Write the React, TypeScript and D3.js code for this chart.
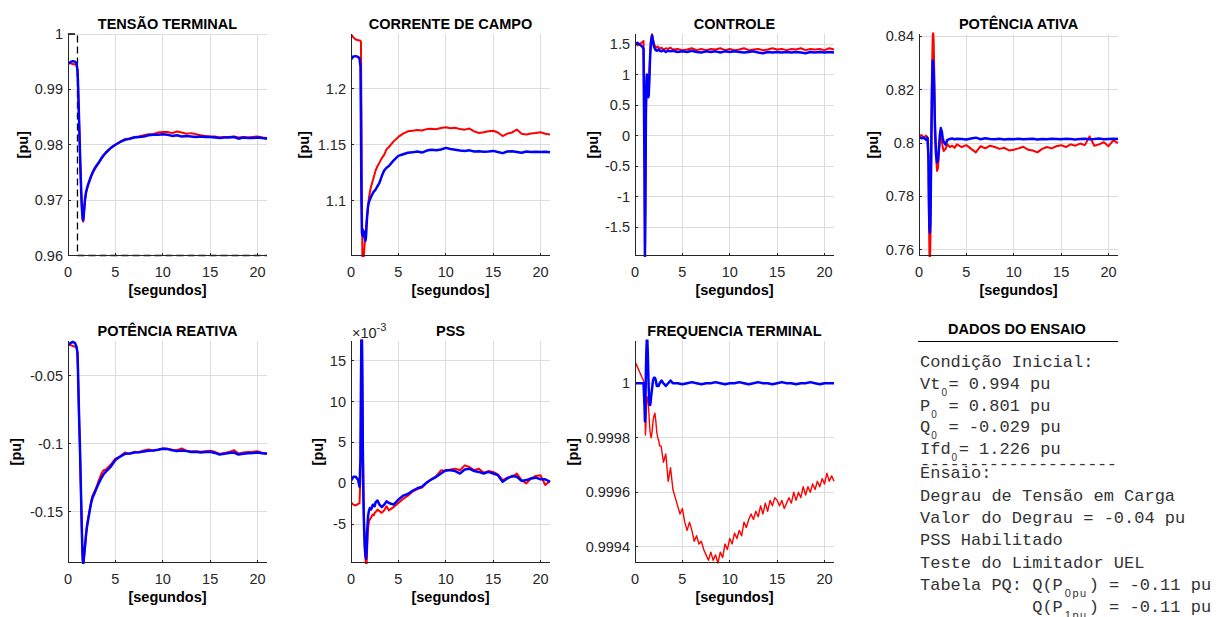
import React from 'react';
import * as d3 from 'd3';

// time base in seconds, shared by most traces (denser around the step at t = 1 s)
const tempo = [
  0, 0.25, 0.5, 0.75, 0.9,
  1.0, 1.05, 1.1, 1.15, 1.2, 1.25, 1.3, 1.35, 1.4, 1.45, 1.5, 1.55, 1.6, 1.65, 1.7,
  1.8, 1.9, 2.0, 2.1, 2.2, 2.3, 2.4, 2.5, 2.6,
  2.8, 3.0, 3.25, 3.5, 3.75, 4.0,
  4.5, 5, 5.5, 6, 6.5, 7, 7.5, 8, 8.5, 9, 9.5, 10, 10.5, 11, 11.5, 12, 12.5, 13, 13.5, 14,
  14.5, 15, 15.5, 16, 16.5, 17, 17.5, 18, 18.5, 19, 19.5, 20, 20.5, 21,
];
// finer time base for the noisy red frequency trace
const tempoFreq = [
  0, 0.25, 0.5, 0.75, 0.9,
  1.0, 1.05, 1.1, 1.15, 1.2, 1.25, 1.3, 1.35, 1.4, 1.45, 1.5, 1.55, 1.6, 1.65, 1.7,
  1.8, 1.9, 2.0, 2.1, 2.2, 2.3, 2.4, 2.5, 2.6,
  2.75, 3.0, 3.25, 3.5, 3.75, 4.0, 4.25, 4.5, 4.75, 5.0,
  5.25, 5.5, 5.75, 6.0, 6.25, 6.5, 6.75, 7.0, 7.25, 7.5,
  7.75, 8.0, 8.25, 8.5, 8.75, 9.0, 9.25, 9.5, 9.75, 10.0,
  10.25, 10.5, 10.75, 11.0, 11.25, 11.5, 11.75, 12.0, 12.25, 12.5,
  12.75, 13.0, 13.25, 13.5, 13.75, 14.0, 14.25, 14.5, 14.75, 15.0,
  15.25, 15.5, 15.75, 16.0, 16.25, 16.5, 16.75, 17.0, 17.25, 17.5,
  17.75, 18.0, 18.25, 18.5, 18.75, 19.0, 19.25, 19.5, 19.75, 20.0,
  20.25, 20.5, 20.75, 21.0,
];

// TENSÃO TERMINAL
const vtRed = [
  0.9948, 0.9947, 0.9946, 0.9945, 0.9944,
  0.9934, 0.9914, 0.9884, 0.9854, 0.9824, 0.9794, 0.9764, 0.9737, 0.9712, 0.969, 0.9674, 0.9664, 0.9661, 0.9667, 0.968,
  0.9701, 0.9713, 0.972, 0.9726, 0.9731, 0.9735, 0.974, 0.9745, 0.9749,
  0.9755, 0.9761, 0.9767, 0.9774, 0.978, 0.9785,
  0.9794, 0.98, 0.9805, 0.981, 0.9811, 0.9814, 0.9815, 0.9817, 0.9819, 0.9819, 0.9822, 0.9823, 0.9823, 0.9821, 0.9824,
  0.9822, 0.982, 0.9821, 0.9819, 0.9817, 0.9816, 0.9815, 0.9815, 0.9813, 0.9814, 0.9814, 0.9815, 0.9813, 0.9814, 0.9813,
  0.9814, 0.9815, 0.9813, 0.9812,
];
const vtBlue = [
  0.9946, 0.9949, 0.9951, 0.995, 0.9947,
  0.9935, 0.9915, 0.9885, 0.9855, 0.9825, 0.9795, 0.9765, 0.9738, 0.9713, 0.9692, 0.9676, 0.9666, 0.9664, 0.967, 0.9682,
  0.9702, 0.9714, 0.9721, 0.9727, 0.9732, 0.9737, 0.9742, 0.9746, 0.975,
  0.9757, 0.9762, 0.9768, 0.9775, 0.9781, 0.9786,
  0.9794, 0.98, 0.9805, 0.9809, 0.9811, 0.9813, 0.9814, 0.9815, 0.9817, 0.9818, 0.9818, 0.9819, 0.9818, 0.9816, 0.9817,
  0.9815, 0.9816, 0.9815, 0.9814, 0.9815, 0.9814, 0.9814, 0.9813, 0.9812, 0.9813, 0.9813, 0.9814, 0.9811, 0.9813, 0.9812,
  0.9812, 0.9813, 0.9812, 0.9811,
];
// voltage reference step (dashed)
const refTempo = [0, 1, 1, 21];
const refTensao = [1, 1, 0.96, 0.96];

// CORRENTE DE CAMPO
const ifdRed = [
  1.2486, 1.246, 1.244, 1.2435, 1.2432,
  1.243, 1.242, 1.18, 1.1, 1.05, 1.042, 1.044, 1.05, 1.056, 1.062, 1.068, 1.073, 1.078, 1.082, 1.086,
  1.095, 1.103, 1.108, 1.112, 1.115, 1.118, 1.121, 1.124, 1.127,
  1.131, 1.134, 1.138, 1.141, 1.146, 1.148,
  1.153, 1.157, 1.16, 1.162, 1.1625, 1.1632, 1.1628, 1.164, 1.1642, 1.1638, 1.165, 1.1657, 1.1648, 1.1652, 1.164,
  1.1635, 1.1645, 1.162, 1.1605, 1.1612, 1.162, 1.1625, 1.161, 1.1578, 1.16, 1.161, 1.1636, 1.1598, 1.1592, 1.16,
  1.1605, 1.1612, 1.1598, 1.1592,
];
const ifdBlue = [
  1.2262, 1.229, 1.2292, 1.2285, 1.227,
  1.22, 1.17, 1.1, 1.072, 1.069, 1.074, 1.07, 1.068, 1.072, 1.066, 1.064, 1.065, 1.07, 1.078, 1.086,
  1.095, 1.099, 1.101, 1.103, 1.105, 1.1065, 1.108, 1.109, 1.11,
  1.113, 1.116, 1.122, 1.127, 1.1295, 1.131,
  1.136, 1.14, 1.1415, 1.1428, 1.1432, 1.144, 1.143, 1.1448, 1.1455, 1.145, 1.1458, 1.1472, 1.1462, 1.1455, 1.1448,
  1.1445, 1.145, 1.144, 1.1442, 1.1438, 1.144, 1.1445, 1.1435, 1.1425, 1.144, 1.1442, 1.1436, 1.1428, 1.144, 1.1435,
  1.1438, 1.1436, 1.1438, 1.1432,
];

// CONTROLE
const ctrlRed = [
  1.52, 1.48, 1.5, 1.53, 1.55,
  -0.3, -1.98, -1.1, 0.2, 0.85, 0.98, 0.95, 0.75, 0.66, 0.7, 0.9, 1.12, 1.33, 1.48, 1.58,
  1.66, 1.58, 1.5, 1.47, 1.45, 1.44, 1.46, 1.44, 1.42,
  1.44, 1.41, 1.43, 1.42, 1.44, 1.41,
  1.42, 1.4, 1.41, 1.43, 1.4, 1.42, 1.4, 1.42, 1.41, 1.43, 1.4, 1.42, 1.4, 1.41, 1.43,
  1.4, 1.41, 1.42, 1.4, 1.41, 1.43, 1.41, 1.42, 1.4, 1.42, 1.41, 1.43, 1.4, 1.42, 1.41,
  1.42, 1.4, 1.43, 1.41,
];
const ctrlBlue = [
  1.5, 1.52, 1.49, 1.46, 1.42,
  -0.5, -1.98, -1.0, 0.3, 0.85, 1.0, 0.9, 0.7, 0.63, 0.66, 0.85, 1.1, 1.3, 1.45, 1.55,
  1.64, 1.55, 1.46, 1.42, 1.4, 1.39, 1.4, 1.41, 1.39,
  1.38, 1.4, 1.37, 1.39, 1.38, 1.39,
  1.37, 1.38, 1.37, 1.39, 1.37, 1.36, 1.38, 1.37, 1.38, 1.36, 1.38, 1.37, 1.38, 1.37, 1.36,
  1.37, 1.38, 1.36, 1.35, 1.37, 1.36, 1.37, 1.36, 1.37, 1.36, 1.37, 1.36, 1.35, 1.37, 1.36,
  1.37, 1.36, 1.37, 1.36,
];

// POTÊNCIA ATIVA
const pRed = [
  0.8025, 0.803, 0.802, 0.8028, 0.802,
  0.792, 0.772, 0.758, 0.756, 0.762, 0.779, 0.799, 0.818, 0.832, 0.84, 0.842, 0.838, 0.829, 0.817, 0.806,
  0.795, 0.7895, 0.7905, 0.796, 0.801, 0.803, 0.801, 0.7985, 0.797,
  0.7978, 0.7995, 0.7985, 0.799, 0.7982, 0.7995,
  0.7985, 0.7992, 0.7978, 0.7965, 0.7988, 0.798, 0.799, 0.7985, 0.7978, 0.7982, 0.7972, 0.7975, 0.798, 0.7986, 0.7975,
  0.7972, 0.7965, 0.7978, 0.7985, 0.798, 0.7988, 0.7992, 0.7985, 0.7995, 0.799, 0.7998, 0.7992, 0.8025, 0.799, 0.7995,
  0.8003, 0.7988, 0.801, 0.8,
];
const pBlue = [
  0.8022, 0.8018, 0.802, 0.8012, 0.802,
  0.795, 0.778, 0.768, 0.7663, 0.77, 0.783, 0.8, 0.815, 0.826, 0.831, 0.83, 0.827, 0.82, 0.811, 0.804,
  0.7955, 0.7928, 0.7935, 0.798, 0.803, 0.8056, 0.8045, 0.802, 0.8005,
  0.7994, 0.8012, 0.8015, 0.8017, 0.8014, 0.8016,
  0.8015, 0.8013, 0.8017, 0.802, 0.8014, 0.8018, 0.8015, 0.8014, 0.8016, 0.8013, 0.8015, 0.8014, 0.8016, 0.8014, 0.8015,
  0.8016, 0.8013, 0.8015, 0.8014, 0.8016, 0.8015, 0.8014, 0.8016, 0.8015, 0.8013, 0.8015, 0.8016, 0.8014, 0.8015, 0.8017,
  0.8014, 0.8015, 0.8016, 0.8015,
];

// POTÊNCIA REATIVA
const qRed = [
  -0.027, -0.0275, -0.0283, -0.0288, -0.0292,
  -0.034, -0.046, -0.061, -0.076, -0.089, -0.101, -0.116, -0.131, -0.146, -0.161, -0.175, -0.185, -0.189, -0.187, -0.183,
  -0.1755, -0.1672, -0.1605, -0.156, -0.152, -0.148, -0.144, -0.1405, -0.138,
  -0.135, -0.132, -0.127, -0.1225, -0.1195, -0.119,
  -0.1155, -0.111, -0.1095, -0.1065, -0.1075, -0.106, -0.1063, -0.105, -0.1042, -0.105, -0.1045, -0.1035, -0.1038, -0.1045, -0.1048,
  -0.1035, -0.1052, -0.1058, -0.1055, -0.106, -0.1055, -0.1052, -0.106, -0.1075, -0.1068, -0.1062, -0.1048, -0.1072, -0.1065, -0.1062,
  -0.106, -0.1055, -0.1068, -0.1072,
];
const qBlue = [
  -0.028, -0.0262, -0.0252, -0.0262, -0.029,
  -0.033, -0.045, -0.06, -0.075, -0.088, -0.1, -0.115, -0.13, -0.145, -0.16, -0.174, -0.184, -0.188, -0.186, -0.182,
  -0.175, -0.167, -0.161, -0.157, -0.153, -0.149, -0.145, -0.142, -0.1395,
  -0.1365, -0.133, -0.129, -0.1255, -0.1225, -0.1205,
  -0.117, -0.112, -0.1095, -0.1075, -0.1072, -0.1065, -0.1063, -0.1058, -0.1052, -0.105, -0.1045, -0.1038, -0.104, -0.1048, -0.1055,
  -0.105, -0.1055, -0.1062, -0.106, -0.1065, -0.1062, -0.106, -0.1068, -0.108, -0.1075, -0.1068, -0.1065, -0.108, -0.1075, -0.107,
  -0.1068, -0.1065, -0.107, -0.1075,
];

// PSS (x 1e-3)
const pssRed = [
  -2.3, -2.6, -2.7, -2.5, -2.4,
  1.0, 10.0, 18.0, 18.5, 13.0, 5.0, 0.0, -3.5, -6.0, -7.8, -8.8, -9.5, -10.0, -9.8, -8.0,
  -5.5, -4.6, -4.4, -4.2, -4.0, -3.8, -3.9, -3.6, -3.5,
  -3.2, -3.4, -3.6, -3.3, -2.8, -3.3,
  -2.9, -2.4, -1.9, -1.5, -1.0, -0.7, -0.5, 0.1, 0.5, 0.9, 1.6, 1.5, 1.7, 1.8, 1.6,
  2.2, 2.0, 1.6, 1.8, 1.3, 1.5, 1.4, 1.1, 0.4, 0.7, 0.8, 1.2, 0.4, 0.0, 0.6,
  0.9, 1.0, -0.2, 0.3,
];
const pssBlue = [
  0.3, 0.8, 0.8, 0.4, -0.4,
  3.0, 12.0, 18.5, 18.5, 12.0, 4.0, -1.0, -4.0, -6.0, -7.5, -8.5, -9.0, -9.2, -8.0, -6.0,
  -4.0, -3.3, -3.0, -3.2, -3.0, -2.6, -2.6, -2.8, -2.3,
  -2.1, -2.6, -2.9, -2.6, -2.2, -2.4,
  -2.6, -2.0, -1.5, -1.3, -0.9, -0.6, -0.4, 0.1, 0.5, 0.8, 1.2, 1.6, 1.6, 1.5, 1.2,
  1.7, 1.8, 1.5, 1.4, 1.2, 1.4, 1.2, 1.0, 0.2, 0.6, 0.9, 0.8, 0.3, 0.4, 0.6,
  0.7, 0.5, 0.5, 0.2,
];

// FREQUENCIA TERMINAL (red on tempoFreq, blue on tempo)
const freqRed = [
  1.00008, 1.00006, 1.00004, 1.00002, 1.00001,
  1.0, 0.9999, 0.99981, 0.99984, 0.9999, 0.99995, 0.99993, 0.99995, 0.99993, 0.9999, 0.99987, 0.99984, 0.99982, 0.99981, 0.9998,
  0.99982, 0.99986, 0.99988, 0.99989, 0.99986, 0.99982, 0.9998, 0.99979, 0.99977,
  0.99977, 0.99971, 0.99974, 0.99964, 0.99969, 0.99961, 0.99958, 0.99955, 0.99952, 0.99954,
  0.99949, 0.99946, 0.99949, 0.99946, 0.99942, 0.99944, 0.99941, 0.99942, 0.99939, 0.99937,
  0.99935, 0.99938, 0.99935, 0.99937, 0.99934, 0.99938, 0.99936, 0.99941, 0.99939, 0.99943,
  0.99941, 0.99945, 0.99943, 0.99946, 0.99944, 0.99949, 0.99947, 0.9995, 0.99952, 0.9995,
  0.99953, 0.99951, 0.99955, 0.99952, 0.99956, 0.99953, 0.99957, 0.99955, 0.99958, 0.99957,
  0.99955, 0.99957, 0.99954, 0.99956, 0.99958, 0.99956, 0.9996, 0.99957, 0.9996, 0.99958,
  0.99962, 0.99959, 0.99962, 0.9996, 0.99963, 0.99961, 0.99964, 0.99962, 0.99965, 0.99963,
  0.99967, 0.99964, 0.99966, 0.99964,
];
const freqBlue = [
  1.0, 1.0, 1.0, 1.0, 1.0,
  0.99992, 0.99986, 0.99992, 1.00004, 1.00012, 1.00016, 1.00016, 1.00011, 1.00004, 0.99998, 0.99994, 0.99992, 0.99992, 0.99993, 0.99995,
  0.99998, 1.00001, 1.00002, 1.00002, 1.00001, 0.99999, 0.99999, 0.99999, 1.0,
  1.00001, 1.0, 0.99999, 1.0, 1.00001, 1.0,
  1.0, 0.999996, 1.0, 1.000004, 1.0, 0.999996, 1.0, 1.0, 1.000004, 1.0, 0.999996, 1.0, 1.0, 1.000004, 1.0,
  0.999996, 1.0, 1.000004, 1.0, 1.0, 0.999996, 1.0, 1.000004, 1.0, 1.0, 0.999996, 1.0, 1.0, 1.000004, 1.0,
  0.999996, 1.0, 1.0, 1.0,
];

const xTicks = [0, 5, 10, 15, 20];

const W = 199;
const H = 221.5;
const RED = '#ff0000';
const BLUE = '#0000ff';
const SANS = "'Liberation Sans', Arial, Helvetica, sans-serif";
const MONO = "'Liberation Mono', 'Courier New', monospace";

type Serie = { values: number[]; color: string; width: number; t?: number[] };
type PanelDef = {
  title: string;
  left: number;
  top: number;
  yDomain: [number, number];
  yTicks: number[];
  labelOffset: number;
  series: Serie[];
  reference?: boolean;
  exponent?: string;
};

const panels: PanelDef[] = [
  {
    title: 'TENSÃO TERMINAL', left: 68, top: 34, yDomain: [0.96, 1], yTicks: [0.96, 0.97, 0.98, 0.99, 1],
    labelOffset: 45.5, reference: true,
    series: [{ values: vtRed, color: RED, width: 2 }, { values: vtBlue, color: BLUE, width: 2.5 }],
  },
  {
    title: 'CORRENTE DE CAMPO', left: 351, top: 34, yDomain: [1.051, 1.249], yTicks: [1.1, 1.15, 1.2],
    labelOffset: 47,
    series: [{ values: ifdRed, color: RED, width: 2 }, { values: ifdBlue, color: BLUE, width: 2.5 }],
  },
  {
    title: 'CONTROLE', left: 635, top: 34, yDomain: [-1.96, 1.664], yTicks: [-1.5, -1, -0.5, 0, 0.5, 1, 1.5],
    labelOffset: 42.5,
    series: [{ values: ctrlRed, color: RED, width: 2 }, { values: ctrlBlue, color: BLUE, width: 2.5 }],
  },
  {
    title: 'POTÊNCIA ATIVA', left: 919, top: 34, yDomain: [0.7578, 0.8409], yTicks: [0.76, 0.78, 0.8, 0.82, 0.84],
    labelOffset: 46.5,
    series: [{ values: pRed, color: RED, width: 2 }, { values: pBlue, color: BLUE, width: 2.5 }],
  },
  {
    title: 'POTÊNCIA REATIVA', left: 68, top: 341, yDomain: [-0.1873, -0.0246], yTicks: [-0.15, -0.1, -0.05],
    labelOffset: 52,
    series: [{ values: qRed, color: RED, width: 2 }, { values: qBlue, color: BLUE, width: 2.5 }],
  },
  {
    title: 'PSS', left: 351, top: 341, yDomain: [-9.67, 17.4], yTicks: [-5, 0, 5, 10, 15],
    labelOffset: 33.5, exponent: '-3',
    series: [{ values: pssRed, color: RED, width: 2 }, { values: pssBlue, color: BLUE, width: 2.5 }],
  },
  {
    title: 'FREQUENCIA TERMINAL', left: 635, top: 341, yDomain: [0.999342, 1.000155], yTicks: [0.9994, 0.9996, 0.9998, 1],
    labelOffset: 62.5,
    series: [{ values: freqRed, color: RED, width: 1.4, t: tempoFreq }, { values: freqBlue, color: BLUE, width: 2.5 }],
  },
];

const fmt = (v: number) => String(+v.toFixed(6));

function Panel({ p, idx }: { p: PanelDef; idx: number }) {
  const x = d3.scaleLinear().domain([0, 21]).range([0, W]);
  const y = d3.scaleLinear().domain(p.yDomain).range([H, 0]);
  const lineFor = (t: number[]) => d3.line<number>().x((_, i) => x(t[i])).y((d) => y(d));
  const clipId = `clip-${idx}`;

  return (
    <g transform={`translate(${p.left},${p.top})`}>
      <defs>
        <clipPath id={clipId}>
          <rect x={0} y={-1.5} width={W + 1} height={H + 3} />
        </clipPath>
      </defs>

      {/* grid */}
      <g stroke="#dcdcdc" strokeWidth={1} shapeRendering="crispEdges">
        {xTicks.filter((t) => t > 0).map((t) => (
          <line key={`gx${t}`} x1={x(t)} x2={x(t)} y1={0} y2={H} />
        ))}
        {p.yTicks.map((t) => (
          <line key={`gy${t}`} x1={0} x2={W} y1={y(t)} y2={y(t)} />
        ))}
      </g>

      {/* traces */}
      <g clipPath={`url(#${clipId})`} fill="none" strokeLinejoin="round">
        {p.reference && (
          <path d={lineFor(refTempo)(refTensao) || ''} stroke="#000" strokeWidth={1.3} strokeDasharray="7 4" />
        )}
        {p.series.map((s, i) => (
          <path key={i} d={lineFor(s.t || tempo)(s.values) || ''} stroke={s.color} strokeWidth={s.width} />
        ))}
      </g>

      {/* axes */}
      <g stroke="#262626" strokeWidth={1} shapeRendering="crispEdges">
        <line x1={0} x2={0} y1={0} y2={H} />
        <line x1={0} x2={W} y1={H} y2={H} />
        {xTicks.map((t) => (
          <line key={`tx${t}`} x1={x(t)} x2={x(t)} y1={H} y2={H - 2.5} />
        ))}
        {p.yTicks.map((t) => (
          <line key={`ty${t}`} x1={0} x2={2.5} y1={y(t)} y2={y(t)} />
        ))}
      </g>

      {/* tick labels */}
      <g fontFamily={SANS} fontSize={14.5} fill="#262626">
        {xTicks.map((t) => (
          <text key={`lx${t}`} x={x(t)} y={H + 21.5} textAnchor="middle">{t}</text>
        ))}
        {p.yTicks.map((t) => (
          <text key={`ly${t}`} x={-5} y={y(t)} textAnchor="end" dominantBaseline="central">{fmt(t)}</text>
        ))}
      </g>

      {p.exponent && (
        <text x={1} y={-3} fontFamily={SANS} fontSize={14.5} fill="#262626">
          ×10<tspan dy={-7} fontSize={11}>{p.exponent}</tspan>
        </text>
      )}

      <text x={W / 2} y={-5} textAnchor="middle" fontFamily={SANS} fontSize={14.5} fontWeight="bold" fill="#000">
        {p.title}
      </text>
      <text x={W / 2} y={H + 39.5} textAnchor="middle" fontFamily={SANS} fontSize={14.5} fontWeight="bold" fill="#000">
        [segundos]
      </text>
      <text
        transform={`translate(${-p.labelOffset},${H / 2}) rotate(-90)`}
        textAnchor="middle"
        dominantBaseline="central"
        fontFamily={SANS}
        fontSize={14.5}
        fontWeight="bold"
        fill="#000"
      >
        [pu]
      </text>
    </g>
  );
}

// test data panel
const condicao = [
  { main: 'Vt', sub: '0', rest: '= 0.994 pu' },
  { main: 'P', sub: '0', rest: ' = 0.801 pu' },
  { main: 'Q', sub: '0', rest: ' = -0.029 pu' },
  { main: 'Ifd', sub: '0', rest: '= 1.226 pu' },
];
const ensaio = ['Degrau de Tensão em Carga', 'Valor do Degrau = -0.04 pu', 'PSS Habilitado', 'Teste do Limitador UEL'];
const tabelaPQ = [
  { main: 'Tabela PQ: Q(P', sub: '0pu', rest: ') = -0.11 pu' },
  { main: '           Q(P', sub: '1pu', rest: ') = -0.11 pu' },
];

function DadosEnsaio() {
  const x0 = 920;
  return (
    <g>
      <text x={1017} y={334} textAnchor="middle" fontFamily={SANS} fontSize={14.5} fontWeight="bold" fill="#000">
        DADOS DO ENSAIO
      </text>
      <line x1={918} x2={1118} y1={341.5} y2={341.5} stroke="#000" strokeWidth={1} />
      <g fontFamily={MONO} fontSize={17} fill="#333" style={{ whiteSpace: 'pre' }}>
        <text x={x0} y={367}>Condição Inicial:</text>
        {condicao.map((c, i) => (
          <text key={c.main} x={x0} y={389 + i * 21.7} xmlSpace="preserve">
            {c.main}
            <tspan dx={1} dy={7} fontSize={10} fontFamily={SANS}>{c.sub}</tspan>
            <tspan dx={1.5} dy={-7}>{c.rest}</tspan>
          </text>
        ))}
        <text x={x0} y={469} textLength={197} lengthAdjust="spacing">--------------------</text>
        <text x={x0} y={478}>Ensaio:</text>
        {ensaio.map((s, i) => (
          <text key={s} x={x0} y={500.5 + i * 22.4}>{s}</text>
        ))}
        {tabelaPQ.map((c, i) => (
          <text key={c.sub} x={x0} y={590 + i * 22.4} xmlSpace="preserve">
            {c.main}
            <tspan dx={2} dy={7} fontSize={11} fontFamily={SANS} letterSpacing={1.5}>{c.sub}</tspan>
            <tspan dx={1} dy={-7}>{c.rest}</tspan>
          </text>
        ))}
      </g>
    </g>
  );
}

export default function App() {
  return (
    <svg
      width={1216}
      height={617}
      style={{ position: 'absolute', left: 0, top: 0, background: '#fff' }}
    >
      {panels.map((p, i) => (
        <Panel key={p.title} p={p} idx={i} />
      ))}
      <DadosEnsaio />
    </svg>
  );
}
